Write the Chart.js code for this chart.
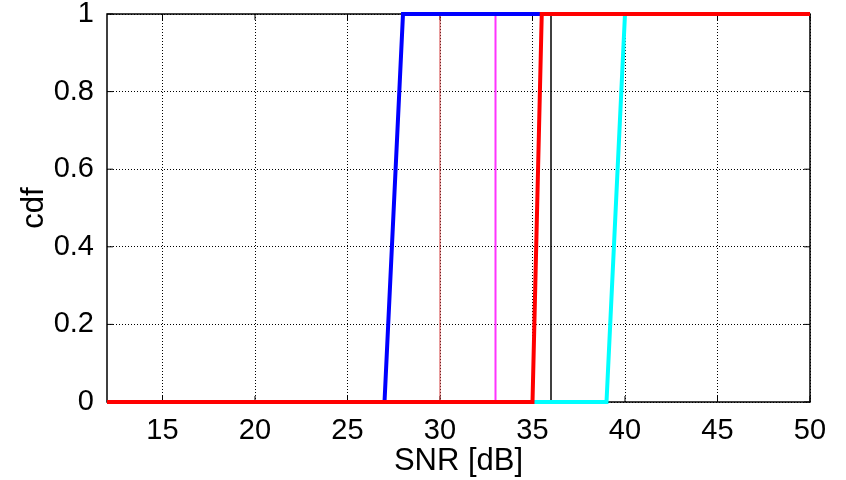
<!DOCTYPE html>
<html>
<head>
<meta charset="utf-8">
<script src="https://cdn.jsdelivr.net/npm/chart.js@4"></script>
<style>
  html, body { margin: 0; padding: 0; background: #ffffff; }
  #wrap { width: 846px; height: 480px; }
</style>
</head>
<body>
<div id="wrap"><canvas id="cdf-chart" width="846" height="480"></canvas></div>
<script>
"use strict";

// cdf curves (SNR in dB, cdf value)
const blueSnr = [12, 27, 28, 50];
const blueCdf = [0, 0, 1, 1];
const cyanSnr = [12, 39, 40, 50];
const cyanCdf = [0, 0, 1, 1];
const redSnr = [12, 35, 35.5, 50];
const redCdf = [0, 0, 1, 1];

// vertical markers
const markerSnr = [30, 33, 36];
const markerColors = ["#d23c3c", "#ff33ff", "#000000"];
const markerWidths = [1, 2, 1.5];

const xTicks = [15, 20, 25, 30, 35, 40, 45, 50];
const yTicks = [0, 0.2, 0.4, 0.6, 0.8, 1];

const FONT = "'Liberation Sans', Arial, sans-serif";

function toPoints(xs, ys) {
  return xs.map((x, i) => ({ x: x, y: ys[i] }));
}

// lower `order` is drawn on top
function curve(xs, ys, color, order) {
  return {
    data: toPoints(xs, ys),
    borderColor: color,
    borderWidth: 4,
    pointRadius: 0,
    tension: 0,
    fill: false,
    clip: false,
    order: order,
  };
}

const markerSets = markerSnr.map((x, i) => ({
  data: toPoints([x, x], [0, 1]),
  borderColor: markerColors[i],
  borderWidth: markerWidths[i],
  pointRadius: 0,
  fill: false,
  clip: false,
  order: 10,
}));

// axes box + inward ticks, drawn under the curves
const boxPlugin = {
  id: "box",
  beforeDatasetsDraw(chart) {
    const { ctx, chartArea: a, scales } = chart;
    ctx.save();
    ctx.strokeStyle = "#000";
    ctx.lineWidth = 1.5;
    ctx.strokeRect(a.left, a.top, a.right - a.left, a.bottom - a.top);
    ctx.lineWidth = 1;
    xTicks.forEach((v) => {
      const px = scales.x.getPixelForValue(v);
      ctx.beginPath();
      ctx.moveTo(px, a.bottom);
      ctx.lineTo(px, a.bottom - 6);
      ctx.moveTo(px, a.top);
      ctx.lineTo(px, a.top + 6);
      ctx.stroke();
    });
    yTicks.forEach((v) => {
      const py = scales.y.getPixelForValue(v);
      ctx.beginPath();
      ctx.moveTo(a.left, py);
      ctx.lineTo(a.left + 6, py);
      ctx.moveTo(a.right, py);
      ctx.lineTo(a.right - 6, py);
      ctx.stroke();
    });
    ctx.restore();
  },
};

new Chart(document.getElementById("cdf-chart"), {
  type: "line",
  data: {
    datasets: [
      ...markerSets,
      curve(blueSnr, blueCdf, "#0000ff", 3),
      curve(cyanSnr, cyanCdf, "#00ffff", 2),
      curve(redSnr, redCdf, "#ff0000", 1),
    ],
  },
  options: {
    responsive: false,
    animation: false,
    layout: { padding: { left: 0, right: 36, top: 14, bottom: 0 } },
    plugins: {
      legend: { display: false },
      tooltip: { enabled: false },
    },
    scales: {
      x: {
        type: "linear",
        min: 12,
        max: 50,
        afterBuildTicks: (axis) => {
          axis.ticks = xTicks.map((v) => ({ value: v }));
        },
        afterFit: (axis) => {
          axis.height = 78;
          axis.paddingLeft = 0;
          axis.paddingRight = 0;
        },
        grid: { color: "#000", lineWidth: 1, drawTicks: false },
        border: { display: false, dash: [1, 2] },
        ticks: {
          color: "#000",
          padding: 12,
          maxRotation: 0,
          font: { family: FONT, size: 29 },
        },
        title: {
          display: true,
          text: "SNR [dB]",
          color: "#000",
          font: { family: FONT, size: 31 },
          padding: { top: 0, bottom: 0 },
        },
      },
      y: {
        type: "linear",
        min: 0,
        max: 1,
        afterBuildTicks: (axis) => {
          axis.ticks = yTicks.map((v) => ({ value: v }));
        },
        afterFit: (axis) => {
          axis.width = 107;
          axis.paddingTop = 0;
          axis.paddingBottom = 0;
        },
        grid: { color: "#000", lineWidth: 1, drawTicks: false },
        border: { display: false, dash: [1, 2] },
        ticks: {
          color: "#000",
          padding: 13,
          font: { family: FONT, size: 29 },
          callback: (v) => String(v),
        },
        title: {
          display: true,
          text: "cdf",
          color: "#000",
          font: { family: FONT, size: 31 },
          padding: { top: 16, bottom: 0 },
        },
      },
    },
  },
  plugins: [boxPlugin],
});
</script>
</body>
</html>
